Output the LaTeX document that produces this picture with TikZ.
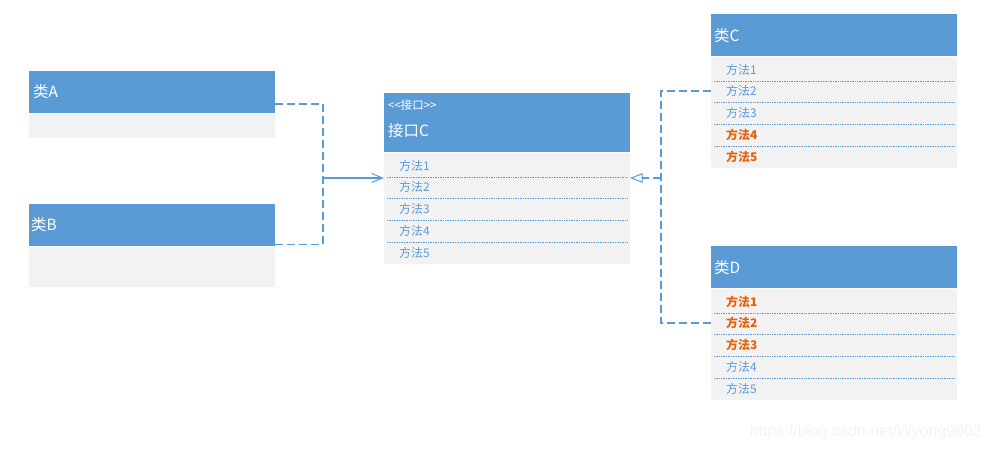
\documentclass[tikz,border=0pt]{standalone}
\usepackage{fontspec}
\setmainfont{Noto Sans CJK SC}
\newfontfamily\wmfont{Liberation Sans}
\usetikzlibrary{arrows.meta}
\definecolor{hdrc}{HTML}{5B9BD5}
\definecolor{bodyc}{HTML}{F2F2F2}
\definecolor{mblue}{HTML}{5B9BD5}
\definecolor{morange}{HTML}{E5620C}
\definecolor{wmc}{HTML}{F3F3F3}
\tikzset{
  hdrbox/.style={fill=hdrc, draw=none, minimum width=246bp, inner sep=0pt, outer sep=0pt, anchor=north west},
  bodybox/.style={fill=bodyc, draw=none, minimum width=246bp, inner sep=0pt, outer sep=0pt, anchor=north west},
  htxt/.style={text=white, font=\fontsize{15.5}{17}\selectfont, anchor=west, inner sep=0pt},
  stxt/.style={text=white, font=\fontsize{11.5}{13}\selectfont, anchor=west, inner sep=0pt},
  mtxt/.style={text=mblue, font=\fontsize{12}{14}\selectfont, anchor=west, inner sep=0pt},
  otxt/.style={text=morange, font=\fontsize{12}{14}\selectfont\bfseries, anchor=west, inner sep=0pt},
  sepline/.style={draw=mblue, line width=0.8bp, dash pattern=on 1bp off 0.7bp},
  conn/.style={draw=mblue, line width=1.2bp, dash pattern=on 8bp off 4bp},
  solidconn/.style={draw=mblue, line width=1.1bp},
}
\begin{document}
\begin{tikzpicture}[x=1bp,y=-1bp]
\useasboundingbox (0,0) rectangle (991,450);
% Class A
\node[hdrbox, minimum height=42bp] (A) at (29,71) {};
\node[bodybox, minimum height=24bp] (Ab) at (29,114) {};
\node[htxt] (At) at (33,92) {类A};
% Class B
\node[hdrbox, minimum height=42bp] (B) at (29,204) {};
\node[bodybox, minimum height=40bp] (Bb) at (29,247) {};
\node[htxt] (Bt) at (31,225) {类B};
% Interface C
\node[hdrbox, minimum height=59bp] (I) at (384,93) {};
\node[bodybox, minimum height=111bp] (Ib) at (384,153) {};
\node[stxt] (Is) at (388,105) {{<}{<}接口{>}{>}};
\node[htxt] (It) at (388,131) {接口C};
% Class C
\node[hdrbox, minimum height=42bp] (C) at (711,14) {};
\node[bodybox, minimum height=111bp] (Cb) at (711,57) {};
\node[htxt] (Ct) at (714,36) {类C};
% Class D
\node[hdrbox, minimum height=42bp] (D) at (711,246) {};
\node[bodybox, minimum height=111bp] (Db) at (711,289) {};
\node[htxt] (Dt) at (714,268) {类D};
% methods
\foreach \k/\sI/\sC/\sD in {1/mtxt/mtxt/otxt,2/mtxt/mtxt/otxt,3/mtxt/mtxt/otxt,4/mtxt/otxt/mtxt,5/mtxt/otxt/mtxt}{
  \node[\sI] (Im\k) at (399,{153+12.5+21.8*(\k-1)}) {方法\k};
  \node[\sC] (Cm\k) at (726,{57+12.5+21.8*(\k-1)}) {方法\k};
  \node[\sD] (Dm\k) at (726,{289+12.5+21.8*(\k-1)}) {方法\k};
}
\foreach \k in {1,2,3,4}{
  \draw[sepline] ([xshift=3bp,yshift={-24bp-21.8bp*(\k-1)}]Ib.north west) -- ([xshift=-3bp,yshift={-24bp-21.8bp*(\k-1)}]Ib.north east);
  \draw[sepline] ([xshift=3bp,yshift={-24bp-21.8bp*(\k-1)}]Cb.north west) -- ([xshift=-3bp,yshift={-24bp-21.8bp*(\k-1)}]Cb.north east);
  \draw[sepline] ([xshift=3bp,yshift={-24bp-21.8bp*(\k-1)}]Db.north west) -- ([xshift=-3bp,yshift={-24bp-21.8bp*(\k-1)}]Db.north east);
}
% connectors left
\coordinate (jL) at (323,178);
\coordinate (pA) at ([yshift=9bp]A.south east);
\coordinate (pB) at ([yshift=1.5bp]B.south east);
\draw[conn] (pA) -- (pA -| jL) -- (pB -| jL) -- (pB);
\draw[solidconn, -{Straight Barb[length=11bp,width=9bp,line width=1bp]}] (jL) -- (jL -| Ib.west);
% connectors right
\coordinate (jR) at (661,178);
\coordinate (pC) at ([yshift=-34bp]Cb.north west);
\coordinate (pD) at ([yshift=-34bp]Db.north west);
\draw[conn] (pC) -- (pC -| jR) -- (pD -| jR) -- (pD);
\draw[conn, -{Triangle[open,length=12.5bp,width=9.5bp,line width=1bp]}] (jR) -- (jR -| Ib.east);
% watermark
\node[text=wmc, font=\wmfont\fontsize{16}{18}\selectfont, anchor=east, inner sep=0pt] (wm) at (982,432) {https://blog.csdn.net/Wyong9802};
\end{tikzpicture}
\end{document}
